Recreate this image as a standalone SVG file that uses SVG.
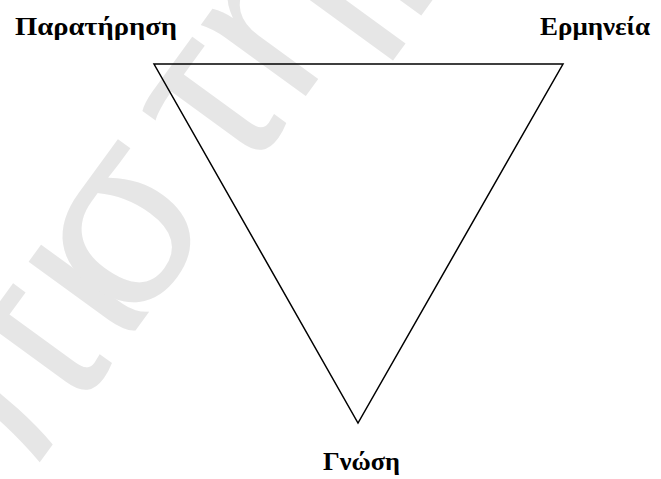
<svg xmlns="http://www.w3.org/2000/svg" width="661" height="479" viewBox="0 0 661 479">
<style>
.lbl{font-family:"Liberation Serif","Times New Roman",serif;font-weight:bold;font-size:26px;fill:#000}
.wm{font-family:"Liberation Sans",Arial,sans-serif;font-size:240px;fill:#e6e6e6}
.edge{fill:none;stroke:#000;stroke-width:1.5;stroke-linejoin:miter}
</style>
<rect width="661" height="479" fill="#fff"/>
<text class="wm" transform="translate(45,455) rotate(-54)" x="-195" y="0" dx="0 0 0 -30 30">Επιστήμη</text>
<g id="connectors">
<polygon class="edge" points="154,64 563,64 358,423"/>
</g>
<g id="node-paratirisi"><text class="lbl" x="15" y="35" textLength="162" lengthAdjust="spacingAndGlyphs">Παρατήρηση</text></g>
<g id="node-ermineia"><text class="lbl" x="540" y="35" textLength="110" lengthAdjust="spacingAndGlyphs">Ερμηνεία</text></g>
<g id="node-gnosi"><text class="lbl" x="323" y="470" textLength="77" lengthAdjust="spacingAndGlyphs">Γνώση</text></g>
</svg>
